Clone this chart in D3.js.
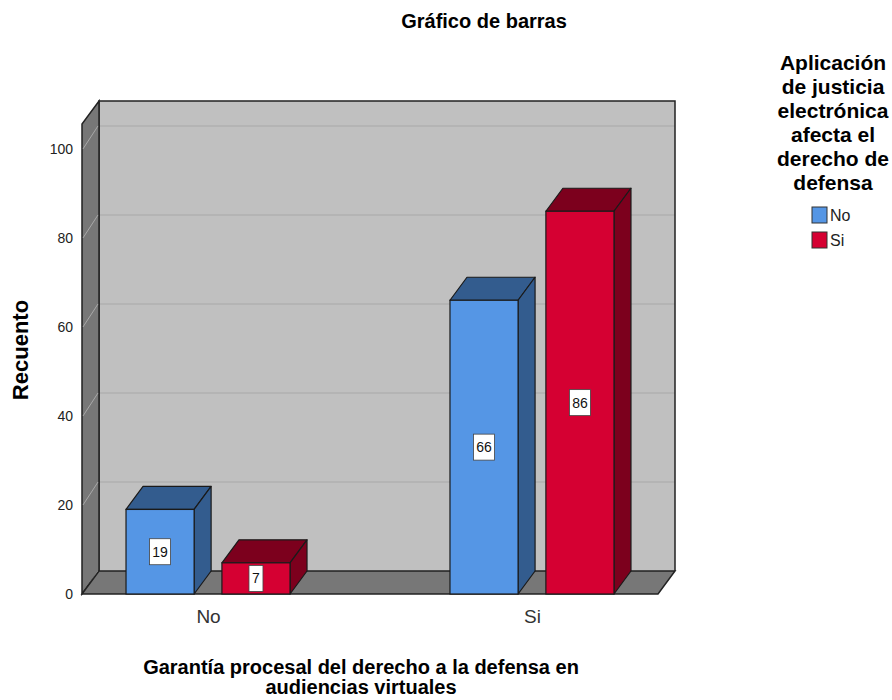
<!DOCTYPE html>
<html>
<head>
<meta charset="utf-8">
<script src="https://cdn.jsdelivr.net/npm/d3@7"></script>
<style>
  body { margin: 0; background: #fff; }
  text { font-family: "Liberation Sans", Arial, sans-serif; }
</style>
</head>
<body>
<div id="chart"></div>
<script>
// data
var categories = ["No", "Si"];
var seriesNames = ["No", "Si"];
var seriesNo = [19, 66];
var seriesSi = [7, 86];
var yTicks = [0, 20, 40, 60, 80, 100];

var W = 892, H = 700;
var depthX = 17, depthY = -23; // 3d offset of walls and bars
var colors = {
  No: { front: "#5596e5", dark: "#335c8e" },
  Si: { front: "#d50032", dark: "#7c001d" }
};

var data = [];
categories.forEach(function (c, i) {
  data.push({ category: c, series: "No", value: seriesNo[i] });
  data.push({ category: c, series: "Si", value: seriesSi[i] });
});

var svg = d3.select("#chart").append("svg")
    .attr("width", W)
    .attr("height", H);

var y = d3.scaleLinear()
    .domain([0, 105.6])
    .range([594, 124]);

var x = d3.scalePoint()
    .domain(categories)
    .range([82, 658])
    .padding(0.389);

var xs = d3.scaleBand()
    .domain(seriesNames)
    .range([-82, 82])
    .paddingInner(0.29);

var xLeft = x.range()[0], xRight = x.range()[1];
var yTop = y(d3.max(y.domain())), yBase = y(0);

// back wall
svg.append("rect")
    .attr("x", xLeft + depthX)
    .attr("y", yTop + depthY)
    .attr("width", xRight - xLeft)
    .attr("height", yBase - yTop)
    .attr("fill", "#c0c0c0");

svg.selectAll(".grid")
    .data(yTicks.filter(function (d) { return d > 0; }))
  .enter().append("line")
    .attr("class", "grid")
    .attr("x1", xLeft + depthX)
    .attr("x2", xRight + depthX)
    .attr("y1", function (d) { return y(d) + depthY; })
    .attr("y2", function (d) { return y(d) + depthY; })
    .attr("stroke", "#b0b0b0")
    .attr("stroke-width", 1.5);

svg.append("path")
    .attr("d", `M${xLeft + depthX},${yBase + depthY}V${yTop + depthY}H${xRight + depthX}V${yBase + depthY}`)
    .attr("fill", "none")
    .attr("stroke", "#222")
    .attr("stroke-width", 1.5);

// left wall
svg.append("path")
    .attr("d", `M${xLeft},${yBase}V${yTop}L${xLeft + depthX},${yTop + depthY}V${yBase + depthY}Z`)
    .attr("fill", "#777")
    .attr("stroke", "#222")
    .attr("stroke-width", 1.5);

svg.selectAll(".sidegrid")
    .data(yTicks)
  .enter().append("line")
    .attr("class", "sidegrid")
    .attr("x1", xLeft + 1)
    .attr("x2", xLeft + depthX - 1)
    .attr("y1", function (d) { return y(d); })
    .attr("y2", function (d) { return y(d) + depthY; })
    .attr("stroke", "#a8a8a8")
    .attr("stroke-width", 1);

// floor
svg.append("path")
    .attr("d", `M${xLeft},${yBase}L${xRight},${yBase}L${xRight + depthX},${yBase + depthY}L${xLeft + depthX},${yBase + depthY}Z`)
    .attr("fill", "#777")
    .attr("stroke", "#222")
    .attr("stroke-width", 1.5);

// bars
var bw = xs.bandwidth();
var bar = svg.selectAll(".bar")
    .data(data)
  .enter().append("g")
    .attr("class", "bar")
    .attr("transform", function (d) { return `translate(${x(d.category) + xs(d.series)},0)`; });

bar.append("path") // top
    .attr("d", function (d) {
      var t = y(d.value);
      return `M0,${t}L${depthX},${t + depthY}H${bw + depthX}L${bw},${t}Z`;
    })
    .attr("fill", function (d) { return colors[d.series].dark; })
    .attr("stroke", "#1a1a1a")
    .attr("stroke-width", 1.2)
    .attr("stroke-linejoin", "round");

bar.append("path") // side
    .attr("d", function (d) {
      var t = y(d.value);
      return `M${bw},${t}L${bw + depthX},${t + depthY}V${yBase + depthY}L${bw},${yBase}Z`;
    })
    .attr("fill", function (d) { return colors[d.series].dark; })
    .attr("stroke", "#1a1a1a")
    .attr("stroke-width", 1.2)
    .attr("stroke-linejoin", "round");

bar.append("rect") // front
    .attr("x", 0)
    .attr("y", function (d) { return y(d.value); })
    .attr("width", bw)
    .attr("height", function (d) { return yBase - y(d.value); })
    .attr("fill", function (d) { return colors[d.series].front; })
    .attr("stroke", "#1a1a1a")
    .attr("stroke-width", 1.2);

// value labels
var lab = bar.append("g")
    .attr("transform", function (d) {
      var cy = Math.min((y(d.value) + yBase) / 2, yBase - 13);
      return `translate(${bw / 2},${cy})`;
    });

lab.append("rect")
    .attr("x", function (d) { return -(String(d.value).length * 7 + 7) / 2; })
    .attr("y", -13)
    .attr("width", function (d) { return String(d.value).length * 7 + 7; })
    .attr("height", 26)
    .attr("fill", "#fff")
    .attr("stroke", "#444")
    .attr("stroke-width", 0.8);

lab.append("text")
    .attr("text-anchor", "middle")
    .attr("dy", "0.36em")
    .attr("font-size", 14)
    .attr("fill", "#111")
    .text(function (d) { return d.value; });

// axes
var yAxis = d3.axisLeft(y).tickValues(yTicks).tickSize(0).tickPadding(9);
svg.append("g")
    .attr("class", "yAxis")
    .attr("transform", `translate(${xLeft},0)`)
    .call(yAxis)
    .call(function (g) { g.select(".domain").remove(); })
    .selectAll("text")
    .attr("font-size", 14)
    .attr("font-family", "Liberation Sans, Arial, sans-serif")
    .attr("fill", "#222");

var xAxis = d3.axisBottom(x).tickSize(0).tickPadding(16);
svg.append("g")
    .attr("class", "xAxis")
    .attr("transform", `translate(0,${yBase})`)
    .call(xAxis)
    .call(function (g) { g.select(".domain").remove(); })
    .selectAll("text")
    .attr("font-size", 19)
    .attr("font-family", "Liberation Sans, Arial, sans-serif")
    .attr("fill", "#333");

// titles
svg.append("text")
    .attr("x", 484)
    .attr("y", 28)
    .attr("text-anchor", "middle")
    .attr("font-size", 20)
    .attr("font-weight", "bold")
    .text("Gráfico de barras");

svg.append("text")
    .attr("transform", "translate(28,350) rotate(-90)")
    .attr("text-anchor", "middle")
    .attr("font-size", 22)
    .attr("font-weight", "bold")
    .text("Recuento");

svg.append("text")
    .attr("text-anchor", "middle")
    .attr("font-size", 20)
    .attr("font-weight", "bold")
    .selectAll("tspan")
    .data(["Garantía procesal del derecho a la defensa en", "audiencias virtuales"])
  .enter().append("tspan")
    .attr("x", 361)
    .attr("y", function (d, i) { return 674 + i * 20; })
    .text(function (d) { return d; });

// legend
var legendTitle = ["Aplicación", "de justicia", "electrónica", "afecta el", "derecho de", "defensa"];
svg.append("text")
    .attr("text-anchor", "middle")
    .attr("font-size", 21)
    .attr("font-weight", "bold")
    .selectAll("tspan")
    .data(legendTitle)
  .enter().append("tspan")
    .attr("x", 833)
    .attr("y", function (d, i) { return 70 + i * 24; })
    .text(function (d) { return d; });

var legend = svg.selectAll(".legend")
    .data(seriesNames)
  .enter().append("g")
    .attr("class", "legend")
    .attr("transform", function (d, i) { return `translate(812,${207 + i * 25})`; });

legend.append("rect")
    .attr("width", 15)
    .attr("height", 16)
    .attr("fill", function (d) { return colors[d].front; })
    .attr("stroke", "#333")
    .attr("stroke-width", 1);

legend.append("text")
    .attr("x", 18)
    .attr("y", 14)
    .attr("font-size", 16)
    .attr("fill", "#222")
    .text(function (d) { return d; });
</script>
</body>
</html>
